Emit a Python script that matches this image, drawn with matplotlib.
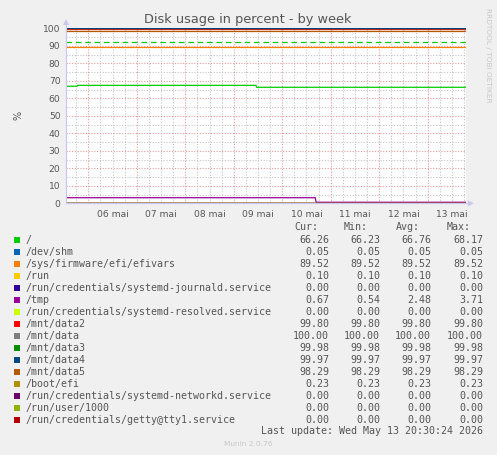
import matplotlib
matplotlib.use("Agg")
import matplotlib.pyplot as plt
from matplotlib.patches import Rectangle, Polygon

W, H = 497, 455

# time axis: days relative to 06 mai 00:00
t_start, t_end = -0.46, 7.79
day_labels = ["06 mai", "07 mai", "08 mai", "09 mai", "10 mai", "11 mai", "12 mai", "13 mai"]

names = ["/", "/dev/shm", "/sys/firmware/efi/efivars", "/run",
         "/run/credentials/systemd-journald.service", "/tmp",
         "/run/credentials/systemd-resolved.service", "/mnt/data2", "/mnt/data",
         "/mnt/data3", "/mnt/data4", "/mnt/data5", "/boot/efi",
         "/run/credentials/systemd-networkd.service", "/run/user/1000",
         "/run/credentials/getty@tty1.service"]
colors = ["#00CC00", "#0066B3", "#FF8000", "#FFCC00", "#330099", "#990099",
          "#CCFF00", "#FF0000", "#808080", "#008F00", "#00487D", "#B35A00",
          "#B38F00", "#6B006B", "#8FB300", "#B30000"]
cur = [66.26, 0.05, 89.52, 0.10, 0.00, 0.67, 0.00, 99.80, 100.00, 99.98, 99.97, 98.29, 0.23, 0.00, 0.00, 0.00]
vmin = [66.23, 0.05, 89.52, 0.10, 0.00, 0.54, 0.00, 99.80, 100.00, 99.98, 99.97, 98.29, 0.23, 0.00, 0.00, 0.00]
vavg = [66.76, 0.05, 89.52, 0.10, 0.00, 2.48, 0.00, 99.80, 100.00, 99.98, 99.97, 98.29, 0.23, 0.00, 0.00, 0.00]
vmax = [68.17, 0.05, 89.52, 0.10, 0.00, 3.71, 0.00, 99.80, 100.00, 99.98, 99.97, 98.29, 0.23, 0.00, 0.00, 0.00]

# step series
root_t = [t_start, -0.23, -0.22, 3.46, 3.47, t_end]
root_v = [66.9, 66.9, 67.4, 67.4, 66.3, 66.3]
tmp_t = [t_start, 4.68, 4.70, t_end]
tmp_v = [3.2, 3.2, 0.6, 0.6]
warn_level = 92

fig = plt.figure(figsize=(W / 100, H / 100), dpi=100, facecolor="#F0F0F0")
ax = fig.add_axes([66 / W, 1 - 203.3 / H, 400 / W, 175 / H])
ax.set_facecolor("white")
ax.set_xlim(t_start, t_end)
ax.set_ylim(0, 100)

# grid
minor_kw = dict(color="#c4c4c4", lw=0.8, ls=(0, (1, 1.5)), zorder=0)
major_kw = dict(color="#e49a9a", lw=0.8, ls=(0, (1, 1.5)), zorder=1)
for i in range(-1, 8):
    for k in range(1, 4):
        x = i + k * 0.25
        if t_start < x < t_end:
            ax.axvline(x, **minor_kw)
for i in range(0, 8):
    ax.axvline(i, **major_kw)
for y in range(5, 100, 10):
    ax.axhline(y, **minor_kw)
for y in range(10, 101, 10):
    ax.axhline(y, **major_kw)

# series
for i, (n, c) in enumerate(zip(names, colors)):
    if n == "/":
        ax.plot(root_t, root_v, color=c, lw=0.9, zorder=3)
    elif n == "/tmp":
        ax.plot(tmp_t, tmp_v, color=c, lw=0.9, zorder=3)
    else:
        ax.plot([t_start, t_end], [cur[i], cur[i]], color=c, lw=0.9, zorder=3)
ax.axhline(warn_level, color="#00CC00", lw=0.9, dashes=(4.5, 3), zorder=3)

for s in ["top", "right"]:
    ax.spines[s].set_visible(False)
for s in ["left", "bottom"]:
    ax.spines[s].set_color("#c8c8f0")
    ax.spines[s].set_linewidth(0.8)
ax.set_yticks(range(0, 101, 10))
ax.set_xticks([i + 0.5 for i in range(8)])
ax.set_xticklabels(day_labels)
ax.tick_params(axis="both", length=0, labelsize=6.6, labelcolor="#555555", pad=4)
ax.tick_params(axis="x", pad=5)
ax.set_ylabel("%", fontsize=7, color="#555555", labelpad=14)

# axis arrows
ac = "#c8c8f0"
fig.lines.append(plt.Line2D([66 / W, 66 / W], [1 - 203.3 / H, 1 - 22 / H],
                            transform=fig.transFigure, color=ac, lw=0.8))
fig.lines.append(plt.Line2D([66 / W, 471 / W], [1 - 203.3 / H, 1 - 203.3 / H],
                            transform=fig.transFigure, color=ac, lw=0.8))
fig.patches.append(Polygon([[63 / W, 1 - 25 / H], [69 / W, 1 - 25 / H], [66 / W, 1 - 19 / H]],
                           closed=True, transform=fig.transFigure, facecolor=ac,
                           edgecolor="none", figure=fig))
fig.patches.append(Polygon([[468 / W, 1 - 200.3 / H], [468 / W, 1 - 206.3 / H], [474 / W, 1 - 203.3 / H]],
                           closed=True, transform=fig.transFigure, facecolor=ac,
                           edgecolor="none", figure=fig))

fig.text(248 / W, 1 - 19 / H, "Disk usage in percent - by week", ha="center", va="center",
         fontsize=9.3, color="#555555")
fig.text(488 / W, 1 - 55 / H, "RRDTOOL / TOBI OETIKER", ha="center", va="center",
         rotation=270, fontsize=5.3, color="#c8c8c8")

mono = "DejaVu Sans Mono"
tc = "#555555"
for x, h in zip([294, 344, 395.7, 446.7], ["Cur:", "Min:", "Avg:", "Max:"]):
    fig.text(x / W, 1 - 227.5 / H, h, ha="left", va="center", family=mono, fontsize=7.2, color=tc)
for i, n in enumerate(names):
    yc = 239.7 + 12.0 * i
    fig.patches.append(Rectangle((14 / W, 1 - (yc + 3) / H), 6 / W, 6 / H,
                                 transform=fig.transFigure, facecolor=colors[i],
                                 edgecolor="none", figure=fig))
    fig.text(26 / W, 1 - yc / H, n, ha="left", va="center", family=mono, fontsize=7.2, color=tc)
    for x, v in zip([329, 380, 431, 483], [cur[i], vmin[i], vavg[i], vmax[i]]):
        fig.text(x / W, 1 - yc / H, "%.2f" % v, ha="right", va="center", family=mono,
                 fontsize=7.2, color=tc)
fig.text(483 / W, 1 - 431 / H, "Last update: Wed May 13 20:30:24 2026", ha="right",
         va="center", family=mono, fontsize=7.2, color=tc)
fig.text(248 / W, 1 - 444 / H, "Munin 2.0.76", ha="center", va="center", fontsize=5.3,
         color="#c8c8c8")

fig.savefig("out.png", dpi=100, facecolor=fig.get_facecolor())
